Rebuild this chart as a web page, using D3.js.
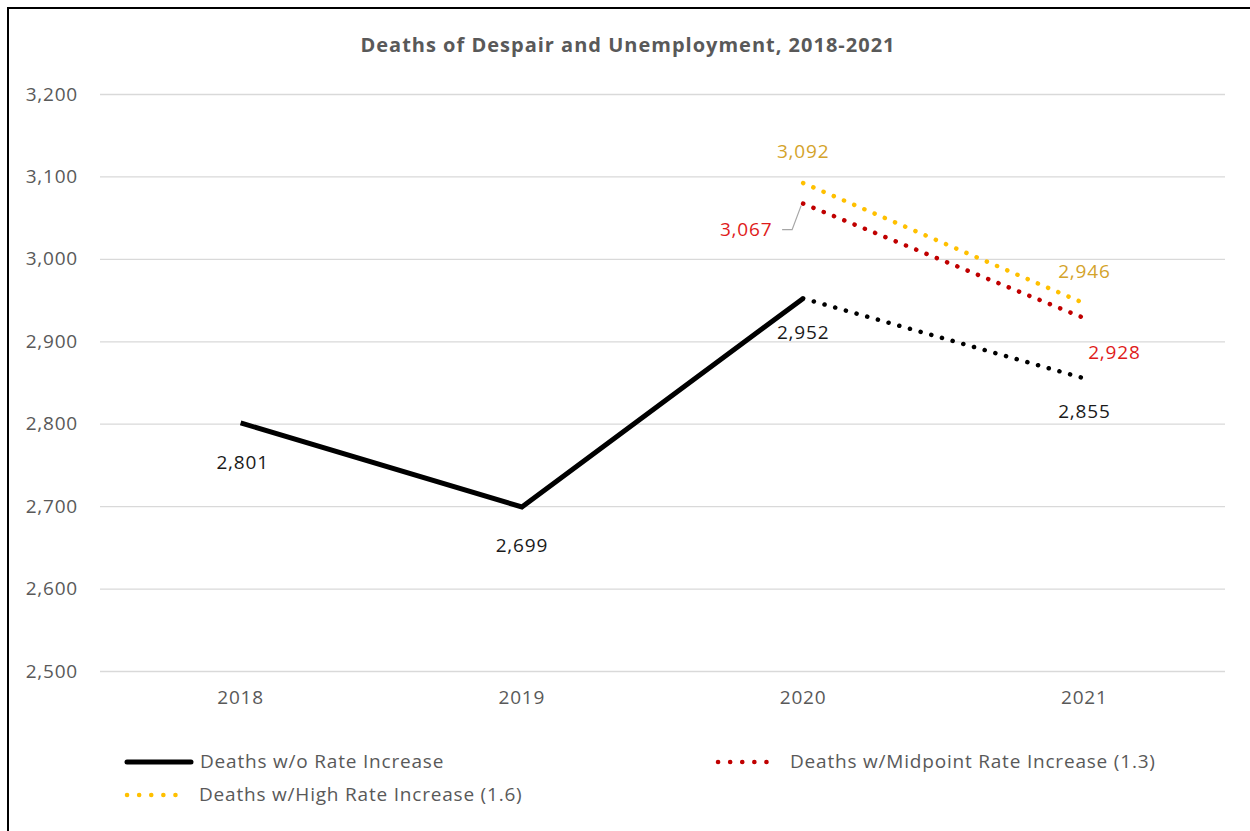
<!DOCTYPE html>
<html>
<head>
<meta charset="utf-8">
<script src="https://cdn.jsdelivr.net/npm/d3@7"></script>
<style>
  body { margin: 0; background: #fff; }
  text { font-family: "Open Sans", sans-serif; }
</style>
</head>
<body>
<div id="chart"></div>
<script>
// data
const years = ["2018", "2019", "2020", "2021"];
const baseActual = [2801, 2699, 2952, null];
const baseProjected = [null, null, 2952, 2855];
const midRate = [null, null, 3067, 2928];
const highRate = [null, null, 3092, 2946];
const yTicks = [2500, 2600, 2700, 2800, 2900, 3000, 3100, 3200];

const width = 1250, height = 831;
const margin = { top: 94, right: 25, bottom: 160, left: 100 };
const FONT = "'Open Sans', sans-serif";

const svg = d3.select("#chart").append("svg")
  .attr("width", width)
  .attr("height", height);

// chart border
svg.append("rect")
  .attr("x", 8).attr("y", 8)
  .attr("width", 1250).attr("height", 830)
  .attr("fill", "none")
  .attr("stroke", "#000")
  .attr("stroke-width", 2);

const xScale = d3.scaleBand()
  .domain(years)
  .range([margin.left, width - margin.right]);

const yScale = d3.scaleLinear()
  .domain([2500, 3200])
  .range([671, margin.top]);

const cx = (i) => xScale(years[i]) + xScale.bandwidth() / 2;

// title
svg.append("text")
  .attr("x", 628).attr("y", 52)
  .attr("text-anchor", "middle")
  .attr("font-size", 20)
  .attr("font-weight", "bold")
  .attr("letter-spacing", 1)
  .attr("fill", "#595959")
  .text("Deaths of Despair and Unemployment, 2018-2021");

// gridlines + y axis
const yAxis = svg.append("g")
  .attr("transform", `translate(${margin.left},0)`)
  .call(d3.axisLeft(yScale)
    .tickValues(yTicks)
    .tickFormat(d3.format(","))
    .tickSize(-(width - margin.left - margin.right))
    .tickPadding(22));
yAxis.select(".domain").remove();
yAxis.selectAll(".tick line").attr("stroke", "#d9d9d9").attr("stroke-width", 1.3);
yAxis.selectAll(".tick text")
  .attr("font-size", 19)
  .attr("letter-spacing", 0.8)
  .attr("fill", "#595959")
  .attr("font-family", FONT);

// x axis
const xAxis = svg.append("g")
  .attr("transform", `translate(0,671)`)
  .call(d3.axisBottom(xScale).tickSize(0).tickPadding(20));
xAxis.select(".domain").remove();
xAxis.selectAll(".tick text")
  .attr("font-size", 19)
  .attr("letter-spacing", 0.8)
  .attr("fill", "#595959")
  .attr("font-family", FONT);

const line = d3.line()
  .defined((d) => d != null)
  .x((d, i) => cx(i))
  .y((d) => yScale(d));

function drawSeries(values, color, dotted) {
  const p = svg.append("path")
    .datum(values)
    .attr("fill", "none")
    .attr("stroke", color)
    .attr("d", line);
  if (dotted) {
    p.attr("stroke-width", 4.5)
      .attr("stroke-linecap", "round")
      .attr("stroke-dasharray", "0.1 11");
  } else {
    p.attr("stroke-width", 5)
      .attr("stroke-linejoin", "miter");
  }
}

drawSeries(baseProjected, "#000", true);
drawSeries(midRate, "#c00000", true);
drawSeries(highRate, "#ffc000", true);
drawSeries(baseActual, "#000", false);

// data labels
const labelFmt = d3.format(",");
function label(i, v, dx, dy, color) {
  svg.append("text")
    .attr("x", cx(i) + dx)
    .attr("y", yScale(v) + dy)
    .attr("text-anchor", "middle")
    .attr("font-size", 19)
    .attr("letter-spacing", 0.8)
    .attr("fill", color)
    .text(labelFmt(v));
}
label(0, baseActual[0], 2, 46, "#1a1a1a");
label(1, baseActual[1], 0, 45, "#1a1a1a");
label(2, baseActual[2], 0, 41, "#1a1a1a");
label(3, baseProjected[3], 0, 40, "#1a1a1a");
label(2, highRate[2], 0, -25, "#d4a32a");
label(3, highRate[3], 0, -25, "#d4a32a");
label(2, midRate[2], -57, 32, "#e01b1b");
label(3, midRate[3], 30, 41, "#e01b1b");

// leader line for 3,067
svg.append("path")
  .attr("d", `M${cx(2) - 21},${yScale(midRate[2]) + 26} h10 L${cx(2) - 2},${yScale(midRate[2]) + 2}`)
  .attr("fill", "none")
  .attr("stroke", "#a6a6a6")
  .attr("stroke-width", 1.2);

// legend
const legendItems = [
  { name: "Deaths w/o Rate Increase", color: "#000", dotted: false, x: 125, y: 762 },
  { name: "Deaths w/Midpoint Rate Increase (1.3)", color: "#c00000", dotted: true, x: 716, y: 762 },
  { name: "Deaths w/High Rate Increase (1.6)", color: "#ffc000", dotted: true, x: 125, y: 795 },
];
legendItems.forEach((d) => {
  const g = svg.append("g").attr("transform", `translate(${d.x},${d.y})`);
  const l = g.append("line")
    .attr("x1", 2).attr("x2", d.dotted ? 62 : 66)
    .attr("y1", 0).attr("y2", 0)
    .attr("stroke", d.color)
    .attr("stroke-linecap", "round");
  if (d.dotted) l.attr("stroke-width", 4.5).attr("stroke-dasharray", "0.1 12");
  else l.attr("stroke-width", 5);
  g.append("text")
    .attr("x", d.dotted ? 74 : 75)
    .attr("y", 6)
    .attr("font-size", 19)
    .attr("letter-spacing", 0.8)
    .attr("fill", "#595959")
    .text(d.name);
});
</script>
</body>
</html>
